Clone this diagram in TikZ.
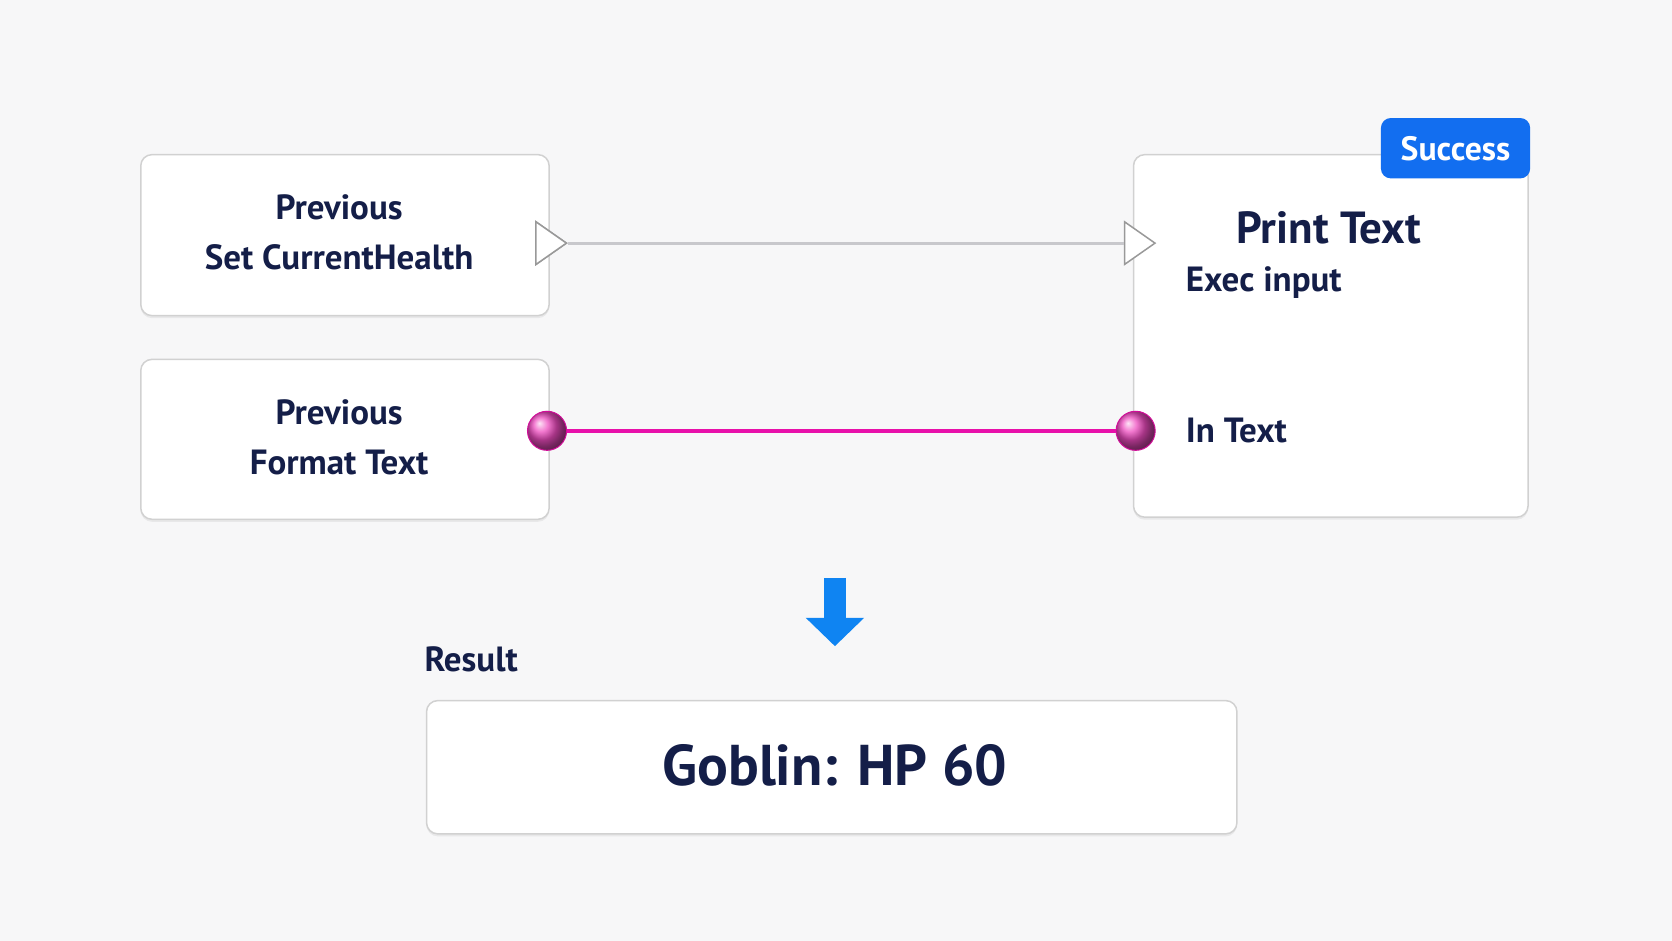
\documentclass[tikz,border=0pt]{standalone}
\usepackage{fontspec}
\setmainfont{PT Sans}
\usetikzlibrary{arrows.meta,positioning,shapes.geometric,shadows}
\definecolor{bgpaper}{RGB}{247,247,248}
\definecolor{navy}{RGB}{20,30,72}
\definecolor{pinmag}{RGB}{232,16,170}
\definecolor{okblue}{RGB}{18,110,240}
\definecolor{wiregray}{RGB}{200,200,204}
\tikzset{
  card/.style={draw=black!18, fill=white, rounded corners=9pt, line width=1.2pt,
    drop shadow={shadow xshift=0pt, shadow yshift=-2pt, opacity=0.12}},
  label/.style={text=navy, font=\bfseries\fontsize{28}{40}\selectfont, align=center},
  execpin/.style={isosceles triangle, isosceles triangle apex angle=70, draw=black!40,
    fill=white, line width=1.2pt, minimum width=12mm, inner sep=0pt},
  datapin/.style={circle, draw=pinmag!90!black, line width=0.8pt, inner sep=0pt, minimum size=11mm,
    shading=ball, ball color=pinmag!75!white}
}
\begin{document}
\begin{tikzpicture}[x=0.3mm,y=-0.3mm]
\fill[bgpaper] (0,0) rectangle (1568,882);
% left cards
\draw[card] (132,145) rectangle (515,296);
\node[label] (setnode) at (318,218) {Previous\\Set CurrentHealth};
\draw[card] (132,337) rectangle (515,487);
\node[label] (fmtnode) at (318,410) {Previous\\Format Text};
% print text card
\draw[card] (1063,145) rectangle (1433,485);
\node[label, font=\bfseries\fontsize{36}{40}\selectfont] (print) at (1246,214) {Print Text};
\node[label, anchor=west] (execin) at (1108,265) {Exec input};
\node[label, anchor=west] (intext) at (1108,404) {In Text};
% success badge
\node[fill=okblue, text=white, rounded corners=8pt, font=\bfseries\fontsize{27}{31}\selectfont,
  minimum width=42mm, minimum height=17mm] (badge) at (1365,139) {Success};
% exec wire
\node[execpin] (execout) at (513,228) {};
\node[execpin] (execrx) at (1065,228) {};
\draw[wiregray, line width=2.5pt] (execout.apex) -- (execrx.west);
\node[execpin] at (513,228) {};
% data wire
\node[datapin] (dataout) at (513,404) {};
\node[datapin] (datain) at (1065,404) {};
\draw[pinmag, line width=3pt] (dataout.east) -- (datain.west);
% result
\coordinate (arrtop) at (783,542);
\coordinate (arrbot) at (783,606);
\draw[okblue!85!cyan, line width=6mm, -{Triangle[length=8mm,width=16mm]}] (arrtop) -- (arrbot);
\node[label, anchor=west] (restitle) at (394,618) {Result};
\draw[card] (400,657) rectangle (1160,782);
\node[label, font=\bfseries\fontsize{46}{52}\selectfont] (result) at (783,718) {Goblin: HP 60};
\end{tikzpicture}
\end{document}
